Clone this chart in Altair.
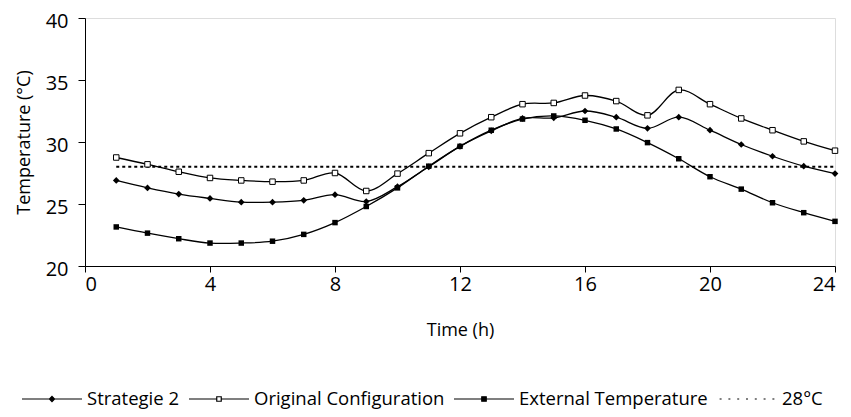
import altair as alt
import pandas as pd

hours = list(range(1, 25))
strategie = [26.9, 26.3, 25.8, 25.45, 25.15, 25.15, 25.3, 25.75, 25.2, 26.4, 28.0, 29.65,
             30.9, 31.9, 31.95, 32.5, 32.0, 31.1, 32.0, 30.95, 29.8, 28.85, 28.05, 27.45]
original = [28.75, 28.2, 27.6, 27.1, 26.9, 26.8, 26.9, 27.5, 26.05, 27.45, 29.1, 30.7,
            32.0, 33.05, 33.15, 33.75, 33.3, 32.15, 34.2, 33.05, 31.9, 30.95, 30.05, 29.3]
external = [23.15, 22.65, 22.2, 21.85, 21.85, 22.0, 22.55, 23.5, 24.8, 26.3, 28.05, 29.65,
            30.95, 31.85, 32.1, 31.75, 31.05, 29.95, 28.65, 27.2, 26.2, 25.1, 24.3, 23.6]
limit_hours = [1, 24]
limit_values = [28, 28]

series_names = ["Strategie 2", "Original Configuration", "External Temperature", "28°C"]
x_ticks = [0, 4, 8, 12, 16, 20, 24]
y_ticks = [20, 25, 30, 35, 40]

FONT = "Open Sans"

rows = []
for name, vals in zip(series_names[:3], [strategie, original, external]):
    for h, v in zip(hours, vals):
        rows.append({"hour": h, "temp": v, "series": name})
df = pd.DataFrame(rows)
df_limit = pd.DataFrame({"hour": limit_hours, "temp": limit_values, "series": series_names[3]})
df_all = pd.concat([df, df_limit], ignore_index=True)

x_enc = alt.X("hour:Q", scale=alt.Scale(domain=[0, 24], nice=False),
              axis=alt.Axis(values=x_ticks, title="Time (h)", grid=False, tickSize=6,
                            labelFontSize=20, titleFontSize=18, labelPadding=2,
                            titlePadding=27, titleFontWeight="normal", domainColor="black",
                            tickColor="black", labelColor="black", titleColor="black",
                            labelFont=FONT, titleFont=FONT))
y_enc = alt.Y("temp:Q", scale=alt.Scale(domain=[20, 40], nice=False, zero=False),
              axis=alt.Axis(values=y_ticks, title="Temperature (°C)", grid=False, tickSize=7,
                            labelFontSize=20, titleFontSize=18, labelPadding=10,
                            labelOffset=3,
                            titlePadding=12, titleFontWeight="normal", domainColor="black",
                            tickColor="black", labelColor="black", titleColor="black",
                            labelFont=FONT, titleFont=FONT))

base = alt.Chart(df)

lines = base.mark_line(interpolate="catmull-rom", color="black", strokeWidth=1.3).encode(
    x=x_enc, y=y_enc, detail="series:N")

limit_line = alt.Chart(df_limit).mark_line(color="black", strokeWidth=2, strokeDash=[3, 3]).encode(
    x="hour:Q", y="temp:Q")

pts_s = base.transform_filter(alt.datum.series == "Strategie 2").mark_point(
    shape="diamond", filled=True, color="black", size=45, opacity=1).encode(x="hour:Q", y="temp:Q")
pts_o = base.transform_filter(alt.datum.series == "Original Configuration").mark_point(
    shape="square", filled=True, fill="white", stroke="black", strokeWidth=1, size=30,
    opacity=1).encode(x="hour:Q", y="temp:Q")
pts_e = base.transform_filter(alt.datum.series == "External Temperature").mark_point(
    shape="square", filled=True, color="black", size=30, opacity=1).encode(x="hour:Q", y="temp:Q")

# legend symbols: line + marker paths (unit = 30px)
p_diamond = "M-1,0L1,0M0,-0.085L0.085,0L0,0.085L-0.085,0Z"
p_open = "M-1,0L-0.075,0M0.075,0L1,0M-0.075,-0.075H0.075V0.075H-0.075Z"
p_filled = "M-1,0L1,0M-0.075,-0.075H0.075V0.075H-0.075Z"
dots = []
for i in range(7):
    c = -0.88 + i * 0.2933
    dots.append(f"M{c - 0.033:.3f},0L{c + 0.033:.3f},0")
p_dots = "".join(dots)

legend_cfg = dict(
    title=None, orient="none", direction="horizontal", legendX=-64, legendY=371,
    symbolOpacity=1, symbolSize=3600, symbolStrokeColor="black", symbolStrokeWidth=1.2,
    symbolOffset=0, labelOffset=4, columnPadding=8, clipHeight=20,
    labelFontSize=18.5, labelFont=FONT, labelColor="black", labelLimit=400,
)

legend_layer = alt.Chart(df_all).transform_filter("datum.hour < 0").mark_point(
    filled=True, size=3600, strokeWidth=1.2).encode(
    x="hour:Q", y="temp:Q",
    shape=alt.Shape("series:N",
                    scale=alt.Scale(domain=series_names, range=[p_diamond, p_open, p_filled, p_dots]),
                    legend=alt.Legend(**legend_cfg)),
    fill=alt.Fill("series:N",
                  scale=alt.Scale(domain=series_names, range=["black", "white", "black", "transparent"]),
                  legend=alt.Legend(**legend_cfg)),
    stroke=alt.Stroke("series:N",
                      scale=alt.Scale(domain=series_names, range=["black", "black", "black", "black"]),
                      legend=alt.Legend(**legend_cfg)),
)

chart = alt.layer(lines, limit_line, pts_s, pts_o, pts_e, legend_layer).properties(
    width=750, height=248,
    autosize=alt.AutoSizeParams(type="none"),
    padding={"left": 77, "top": 10, "right": 8, "bottom": 143},
).configure_view(stroke=None).configure(background="white")

chart.save("out.html", embed_options={"renderer": "svg", "actions": False})
